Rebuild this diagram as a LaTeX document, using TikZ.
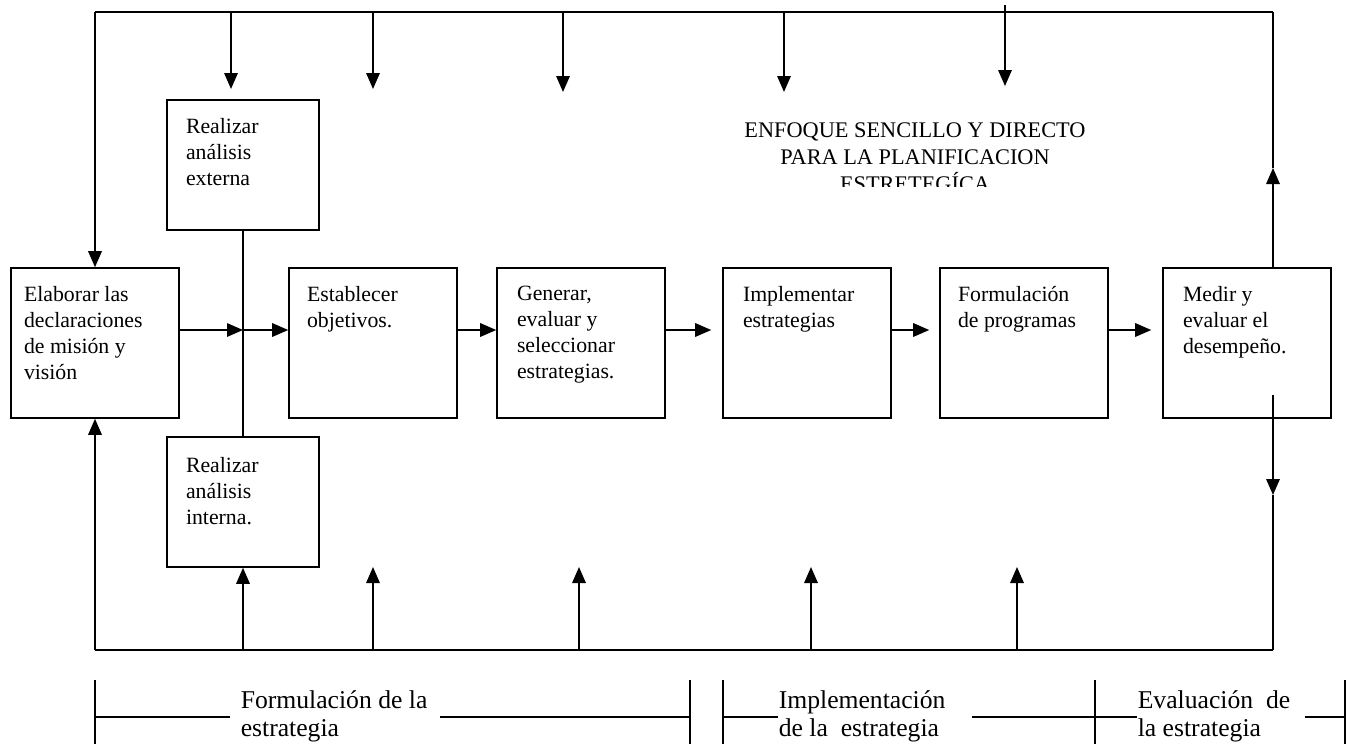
\documentclass[tikz,border=0pt]{standalone}
\usepackage{fontspec}
\setmainfont{Liberation Serif}
\usetikzlibrary{arrows.meta, positioning}

\tikzset{
  stage/.style={draw, line width=0.9pt, minimum width=3.36cm, minimum height=3cm, inner sep=0pt},
  side/.style={stage, minimum width=3.04cm, minimum height=2.6cm},
  stagetext/.style={anchor=north west, align=left, inner sep=0pt, font=\fontsize{12.4}{14.8}\selectfont},
  phase/.style={anchor=north west, align=left, inner sep=0pt, font=\fontsize{14.6}{16}\selectfont},
  arr/.style={-{Triangle[length=0.32cm,width=0.27cm]}},
}

\begin{document}
\begin{tikzpicture}[x=0.02cm, y=-0.02cm, line width=0.9pt]
\useasboundingbox (0,0) rectangle (1359,744);

% the stages
\node[stage] (elab) at (95,343) {};
\node[side] (ext) at (243,165) {};
\node[side] (int) at (243,502) {};
\node[stage] (estab) at (373,343) {};
\node[stage] (gen) at (581,343) {};
\node[stage] (impl) at (807,343) {};
\node[stage] (prog) at (1024,343) {};
\node[stage] (medir) at (1247,343) {};

\node[stagetext] at ([shift={(13,18)}]elab.north west) {Elaborar las\\declaraciones\\de misión y\\visión};
\node[stagetext] at ([shift={(19,18)}]ext.north west) {Realizar\\análisis\\externa};
\node[stagetext] at ([shift={(19,20)}]int.north west) {Realizar\\análisis\\interna.};
\node[stagetext] at ([shift={(18,18)}]estab.north west) {Establecer\\objetivos.};
\node[stagetext] at ([shift={(20,18)}]gen.north west) {Generar,\\evaluar y\\seleccionar\\estrategias.};
\node[stagetext] at ([shift={(20,18)}]impl.north west) {Implementar\\estrategias};
\node[stagetext] at ([shift={(18,18)}]prog.north west) {Formulación\\de programas};
\node[stagetext] at ([shift={(20,18)}]medir.north west) {Medir y\\evaluar el\\desempeño.};

% title, cut off by its text frame
\begin{scope}
  \clip (700,95) rectangle (1140,186);
  \node[align=center, inner sep=0pt, anchor=north, font=\fontsize{12.7}{15.4}\selectfont] (title) at (915,122)
    {ENFOQUE SENCILLO Y DIRECTO\\PARA LA PLANIFICACION\\ESTRETEGÍCA};
\end{scope}

% main flow
\coordinate (row) at (0,330);
\draw[arr] (elab.east |- row) -- (ext.south |- row);
\draw[arr] (ext.south |- row) -- (estab.west |- row);
\draw (ext.south) -- (int.north);
\draw[arr] (estab.east |- row) -- (gen.west |- row);
\draw[arr, shorten >=0.22cm] (gen.east |- row) -- (impl.west |- row);
\draw[arr, shorten >=0.2cm] (impl.east |- row) -- (prog.west |- row);
\draw[arr, shorten >=0.22cm] (prog.east |- row) -- (medir.west |- row);

% feedback loop
\coordinate (tl) at (95,12);
\coordinate (tr) at (1273,12);
\coordinate (bl) at (95,650);
\coordinate (br) at (1273,650);
\coordinate (upmid) at (1273,168);
\coordinate (dnstart) at (1273,395);
\coordinate (dnmid) at (1273,495);

\draw (tl) -- (tr);
\draw (bl) -- (br);
\draw[arr] (tl) -- (elab.north);
\draw[arr] (bl) -- (elab.south);
\draw[arr] (tr |- medir.north) -- (upmid);
\draw (upmid) -- (tr);
\draw[arr] (dnstart) -- (dnmid);
\draw (dnmid) -- (br);

\foreach \x/\y in {231/89, 373/89, 563/92, 784/92}
  \draw[arr] (\x,12) coordinate (top\x) -- (\x,\y) coordinate (drop\x);
\draw[arr] (1005,5) coordinate (top1005) -- (1005,86) coordinate (drop1005);

\draw[arr] (int.south |- bl) -- (int.south);
\foreach \x in {373, 579, 811, 1017}
  \draw[arr] (\x,650) coordinate (bot\x) -- (\x,567) coordinate (rise\x);

% phases
\node[phase] (formul) at (240,690) {Formulación de la\\estrategia};
\node[phase] (implem) at (778,690) {Implementación\\de la\ \ estrategia};
\node[phase] (evalu) at (1137,690) {Evaluación\ \ de\\la estrategia};
\draw (95,680) -- (95,744) (690,680) -- (690,744) (723,680) -- (723,744)
      (1095,680) -- (1095,744) (1345,680) -- (1345,744);
\draw (95,717) -- (230,717) (440,717) -- (690,717);
\draw (723,717) -- (778,717) (972,717) -- (1095,717);
\draw (1095,717) -- (1137,717) (1305,717) -- (1345,717);
\end{tikzpicture}
\end{document}
